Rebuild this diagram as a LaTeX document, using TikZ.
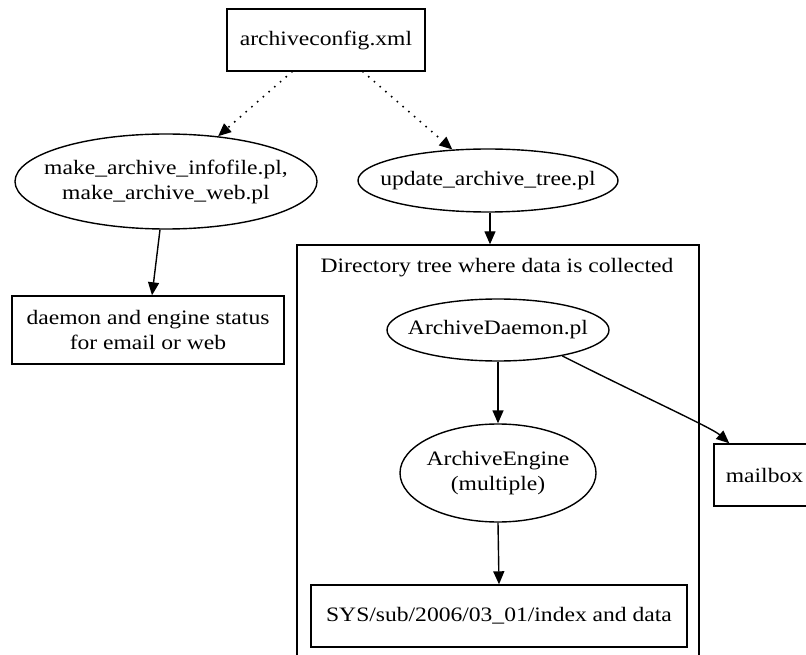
\documentclass[tikz,border=0pt]{standalone}
\usepackage{fontspec}
\setmainfont{Liberation Serif}[FakeStretch=1.15]
\usetikzlibrary{shapes.geometric,arrows.meta}
\begin{document}
\begin{tikzpicture}[x=1pt,y=-1pt,
  every node/.style={font=\fontsize{20.5}{25}\selectfont, inner sep=0pt, align=center},
  box/.style={draw, rectangle, line width=1.4pt},
  oval/.style={draw, ellipse, line width=1.4pt, inner xsep=-40pt, inner ysep=-20pt},
  arr/.style={line width=1.4pt, -{Triangle[length=13pt,width=11pt]}},
  dotarr/.style={line width=2.2pt, line cap=round, dash pattern=on 0pt off 7.6pt, -{Triangle[length=13pt,width=11pt]}}]
\useasboundingbox (0,0) rectangle (806,655);
\clip (0,0) rectangle (806,655);
\fill[white] (0,0) rectangle (806,655);

% cluster
\node[box, minimum width=402pt, minimum height=440pt] (tree) at (498,465) {};
\node (lbl) at (497,268) {Directory tree where data is collected};

\node[box, minimum width=198pt, minimum height=62pt] (cfg) at (326,40) {archiveconfig.xml};
\node[oval, minimum width=302pt, minimum height=95pt] (mk) at (166,181.5) {make\_archive\_infofile.pl,\\make\_archive\_web.pl};
\node[oval, minimum width=260pt, minimum height=63pt] (upd) at (488,180.5) {update\_archive\_tree.pl};
\node[box, minimum width=272pt, minimum height=68pt] (stat) at (148,330) {daemon and engine status\\for email or web};
\node[oval, minimum width=222pt, minimum height=62pt] (dmn) at (498,330) {ArchiveDaemon.pl};
\node[oval, minimum width=196pt, minimum height=98pt] (eng) at (498,473) {ArchiveEngine\\(multiple)};
\node[box, minimum width=376pt, minimum height=62pt] (sys) at (499,616) {SYS/sub/2006/03\_01/index and data};
\node[box, minimum width=101pt, minimum height=62pt] (mail) at (764.5,475) {mailbox};

\draw[dotarr] ([xshift=-34pt]cfg.south) -- (mk.41);
\draw[dotarr] ([xshift=37pt]cfg.south) -- (upd.139);
\draw[arr] ([xshift=-6pt]mk.south) -- ([xshift=4pt]stat.north);
\draw[arr] ([xshift=2pt]upd.south) -- ([xshift=2pt]upd.south |- tree.north);
\draw[arr] (dmn.south) -- (eng.north);
\draw[arr] (eng.south) -- (sys.north);
\draw[arr] (dmn.-22) .. controls (650,400) and (712,428) .. ([xshift=16pt]mail.north west);
\end{tikzpicture}
\end{document}
